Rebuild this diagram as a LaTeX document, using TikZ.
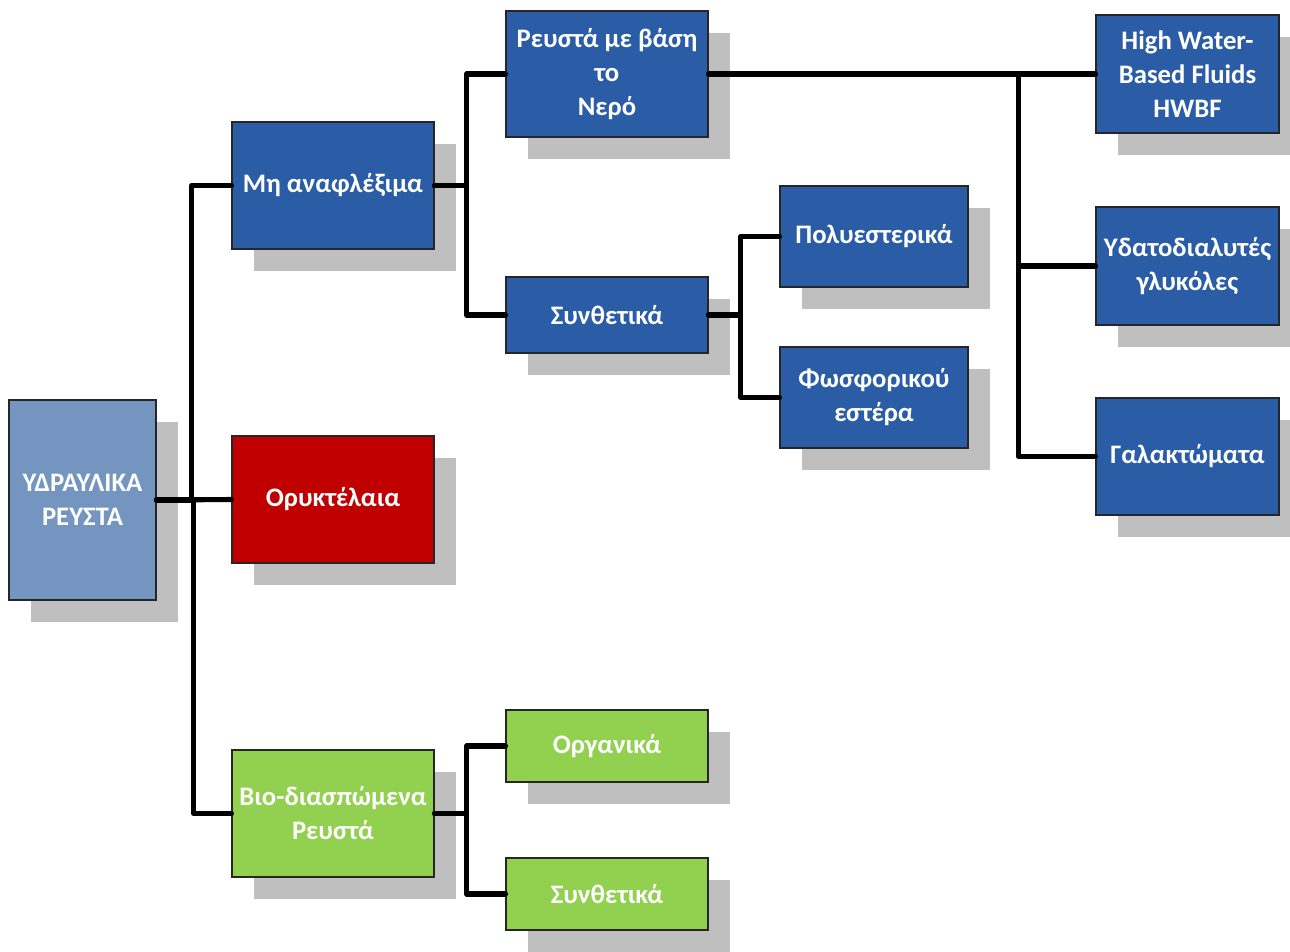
\documentclass[tikz,border=0pt]{standalone}
\usepackage{fontspec}
\setmainfont{Carlito}
\usetikzlibrary{shadows}
\definecolor{rootblue}{HTML}{7395C0}
\definecolor{darkblue}{HTML}{2A5DA6}
\definecolor{redbox}{HTML}{C00000}
\definecolor{greenbox}{HTML}{92D050}
\definecolor{shadowgrey}{HTML}{BFBFBF}
\newlength\ux
\setlength\ux{0.02cm}
\begin{document}
\begin{tikzpicture}[x=0.02cm,y=-0.02cm,
  box/.style n args={3}{draw=black!85, line width=0.6pt, fill=#3,
    minimum width=#1*\ux, minimum height=#2*\ux, inner sep=0pt,
    align=center, text=white,
    font=\bfseries\fontsize{15.2}{19.3}\selectfont,
    drop shadow={shadow xshift=22*\ux, shadow yshift=-22*\ux,
      fill=shadowgrey, opacity=1, draw=none}},
  link/.style={line width=2.9pt, line join=round, line cap=round}]
\useasboundingbox (0,0) rectangle (1290,951);

% first level
\node[box={147}{200}{rootblue}] (root) at (82.5,500) {ΥΔΡΑΥΛΙΚΑ\\ΡΕΥΣΤΑ};
\node[box={202}{127}{darkblue}] (mh) at (333,185.5) {Μη αναφλέξιμα};
\node[box={202}{127}{redbox}] (ork) at (333,499.5) {Ορυκτέλαια};
\node[box={202}{127}{greenbox}] (bio) at (333,813.5) {Βιο-διασπώμενα\\Ρευστά};

% non-flammable branch
\node[box={202}{126}{darkblue}] (rn) at (607,74) {Ρευστά με βάση\\το\\Νερό};
\node[box={202}{76}{darkblue}] (syn) at (607,315) {Συνθετικά};
\node[box={188}{101}{darkblue}] (pol) at (874,236.5) {Πολυεστερικά};
\node[box={188}{101}{darkblue}] (fos) at (874,397.5) {Φωσφορικού\\εστέρα};
\node[box={183}{118}{darkblue}] (hw) at (1187.5,74) {High Water-\\Based Fluids\\HWBF};
\node[box={183}{118}{darkblue}] (yd) at (1187.5,266) {Υδατοδιαλυτές\\γλυκόλες};
\node[box={183}{117}{darkblue}] (gk) at (1187.5,456.5) {Γαλακτώματα};

% biodegradable branch
\node[box={202}{72}{greenbox}] (org) at (607,746) {Οργανικά};
\node[box={202}{72}{greenbox}] (syg) at (607,894) {Συνθετικά};

% connectors
\draw[link] (root.east) -- ++(35,0) |- (mh.west);
\draw[link] (root.east) -- (ork.west);
\draw[link] (root.east) -- ++(37,0) |- (bio.west);

\draw[link] (mh.east) -- ++(32,0) |- (rn.west);
\draw[link] (mh.east) -- ++(32,0) |- (syn.west);

\draw[link] (syn.east) -- ++(32,0) |- (pol.west);
\draw[link] (syn.east) -- ++(32,0) |- (fos.west);

\draw[link] (rn.east) -- (hw.west);
\path (rn.east) -- ++(310,0) coordinate (wb);
\draw[link] (wb) |- (yd.west);
\draw[link] (wb) |- (gk.west);

\draw[link] (bio.east) -- ++(32,0) |- (org.west);
\draw[link] (bio.east) -- ++(32,0) |- (syg.west);
\end{tikzpicture}
\end{document}
